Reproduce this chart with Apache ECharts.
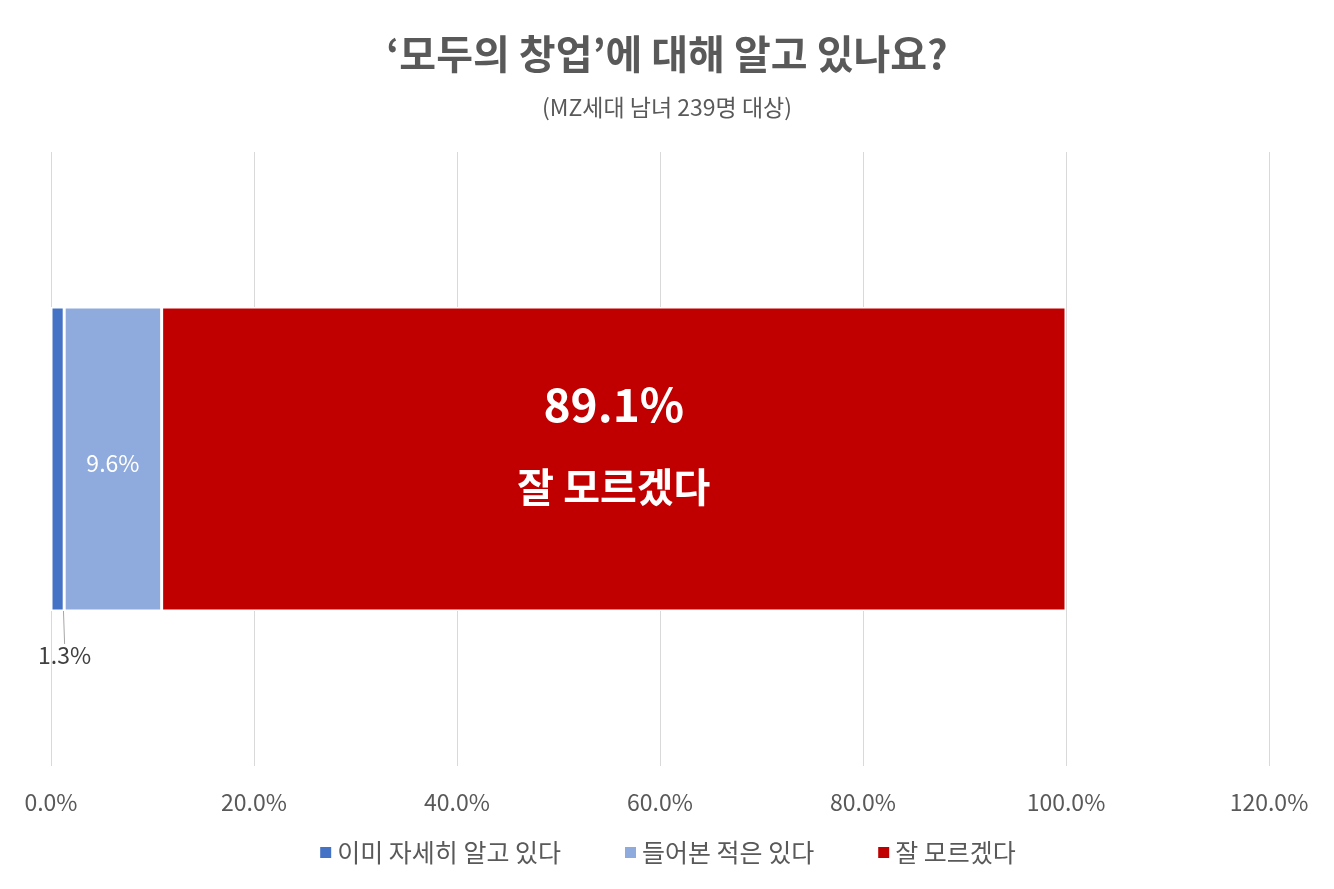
<!DOCTYPE html>
<html>
<head>
<meta charset="utf-8">
<script src="https://cdn.jsdelivr.net/npm/echarts@6/dist/echarts.min.js"></script>
<style>
  html, body { margin: 0; padding: 0; background: #fff; }
  #chart { width: 1334px; height: 889px; }
</style>
</head>
<body>
<div id="chart"></div>
<script>
const categories = ['MZ세대'];
const seriesNames = ['이미 자세히 알고 있다', '들어본 적은 있다', '잘 모르겠다'];
const knowWell = [1.3];
const heardOf = [9.6];
const dontKnow = [89.1];
const colors = ['#4472c4', '#8faadc', '#c00000'];

const font = '"Noto Sans CJK KR", "Noto Sans", sans-serif';
const chart = echarts.init(document.getElementById('chart'));

const option = {
  textStyle: { fontFamily: font },
  title: {
    text: '‘모두의 창업’에 대해 알고 있나요?',
    subtext: '(MZ세대 남녀 239명 대상)',
    left: 'center',
    top: 29,
    itemGap: 22,
    textStyle: { fontFamily: font, fontSize: 40, fontWeight: 'bold', color: '#595959' },
    subtextStyle: { fontFamily: font, fontSize: 23, color: '#595959' }
  },
  legend: {
    bottom: 19,
    left: 'center',
    icon: 'rect',
    itemWidth: 13,
    itemHeight: 13,
    itemGap: 62,
    textStyle: { fontFamily: font, fontSize: 25, color: '#595959' },
    data: seriesNames
  },
  grid: { left: 51, right: 65, top: 152, bottom: 123 },
  xAxis: {
    type: 'value',
    min: 0,
    max: 120,
    interval: 20,
    axisLine: { show: false },
    axisTick: { show: false },
    splitLine: { lineStyle: { color: '#d9d9d9', width: 1 } },
    axisLabel: {
      color: '#595959',
      fontSize: 23,
      margin: 25,
      formatter: v => v.toFixed(1) + '%'
    }
  },
  yAxis: {
    type: 'category',
    data: categories,
    axisLine: { show: false },
    axisTick: { show: false },
    axisLabel: { show: false }
  },
  series: [
    {
      name: seriesNames[0],
      type: 'bar',
      stack: 'total',
      barWidth: '49.5%',
      data: knowWell,
      itemStyle: { color: colors[0], borderColor: '#fff', borderWidth: 1.5 },
      label: {
        show: true,
        position: 'bottom',
        color: '#404040',
        fontSize: 23,
        formatter: p => p.value.toFixed(1) + '%'
      },
      labelLayout: { dx: 7, dy: 28 },
      labelLine: { show: true, lineStyle: { color: '#a6a6a6', width: 1 } }
    },
    {
      name: seriesNames[1],
      type: 'bar',
      stack: 'total',
      data: heardOf,
      itemStyle: { color: colors[1], borderColor: '#fff', borderWidth: 1.5 },
      label: {
        show: true,
        position: 'inside',
        color: '#fff',
        fontSize: 23,
        offset: [0, 4],
        formatter: p => p.value.toFixed(1) + '%'
      }
    },
    {
      name: seriesNames[2],
      type: 'bar',
      stack: 'total',
      data: dontKnow,
      itemStyle: { color: colors[2], borderColor: '#fff', borderWidth: 1.5 },
      label: {
        show: true,
        position: 'inside',
        offset: [0, -13],
        formatter: p => '{a|' + p.value.toFixed(1) + '%}\n{b|' + p.seriesName + '}',
        rich: {
          a: { color: '#fff', fontSize: 46, fontWeight: 'bold', fontFamily: font, lineHeight: 82 },
          b: { color: '#fff', fontSize: 40, fontWeight: 'bold', fontFamily: font, lineHeight: 82 }
        }
      }
    }
  ]
};

chart.setOption(option);
window.addEventListener('resize', () => chart.resize());
</script>
</body>
</html>
